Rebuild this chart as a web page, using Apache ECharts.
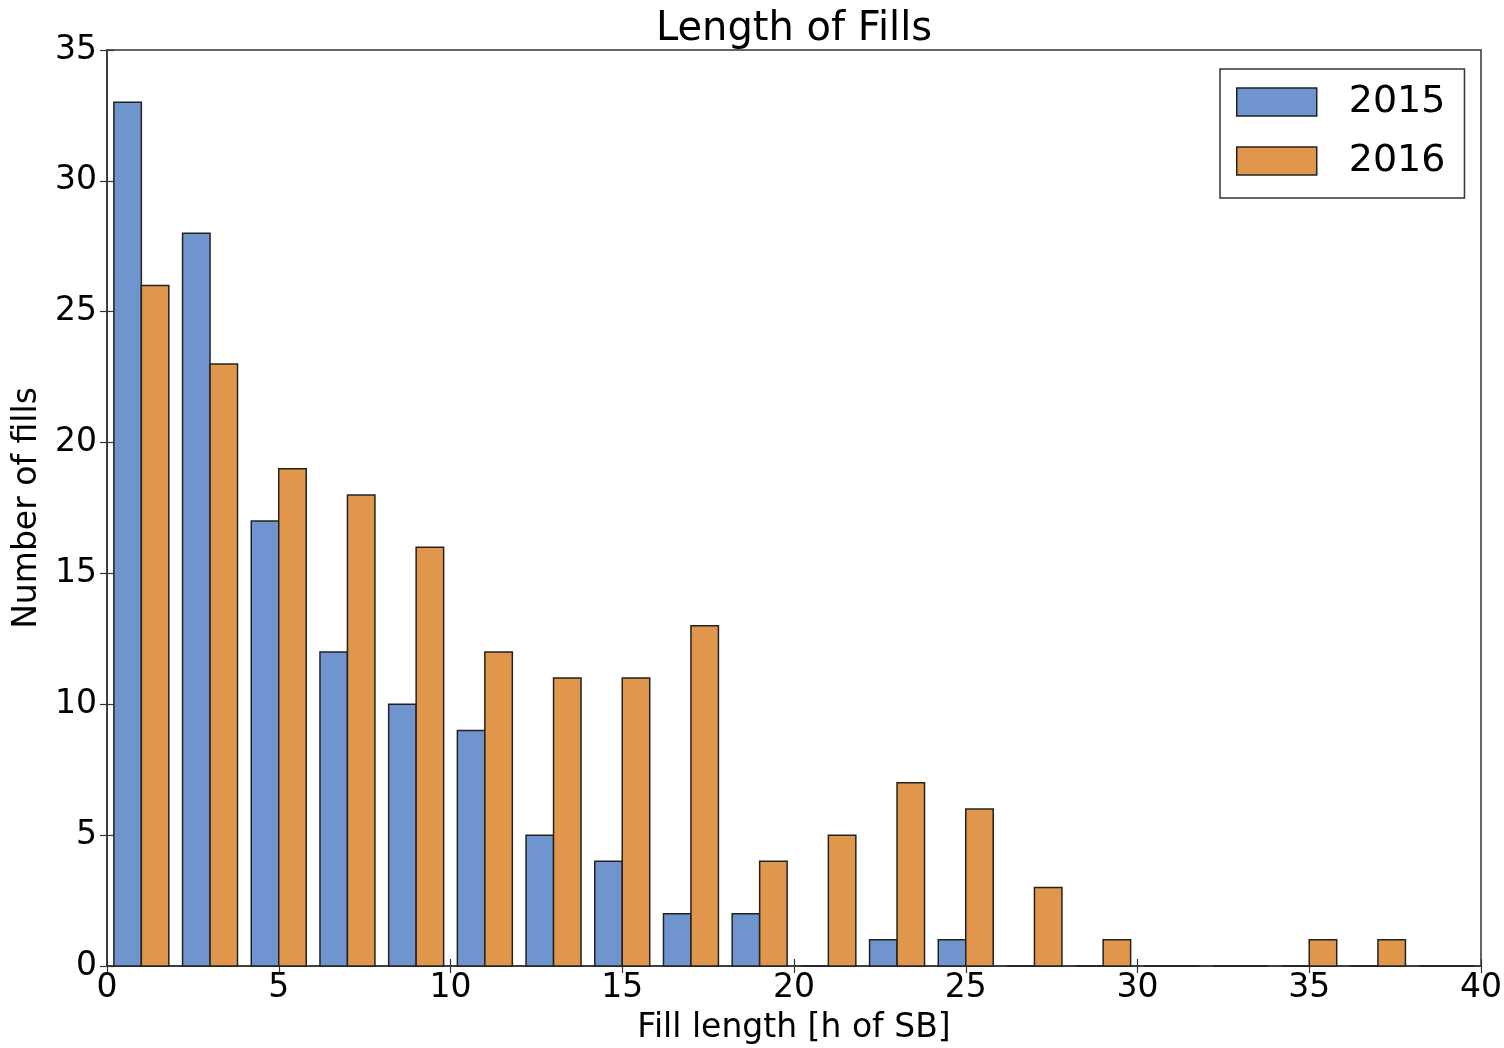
<!DOCTYPE html>
<html>
<head>
<meta charset="utf-8">
<title>Length of Fills</title>
<script src="https://cdn.jsdelivr.net/npm/echarts@6/dist/echarts.min.js"></script>
<style>
  html, body { margin: 0; padding: 0; background: #fff; }
  #chart { width: 1504px; height: 1048px; }
</style>
</head>
<body>
<div id="chart"></div>
<script>
  // histogram bins, width 2h
  var binStarts = [0, 2, 4, 6, 8, 10, 12, 14, 16, 18, 20, 22, 24, 26, 28, 30, 32, 34, 36, 38];
  var fills2015 = [33, 28, 17, 12, 10, 9, 5, 4, 2, 2, 0, 1, 1, 0, 0, 0, 0, 0, 0, 0];
  var fills2016 = [26, 23, 19, 18, 16, 12, 11, 11, 13, 4, 5, 7, 6, 3, 1, 0, 0, 1, 1, 0];
  var xTicks = [0, 5, 10, 15, 20, 25, 30, 35, 40];
  var yTicks = [0, 5, 10, 15, 20, 25, 30, 35];

  var FONT = 'DejaVu Sans';
  var colors = ['#7094cd', '#e0974c'];
  var edge = '#222';

  // bar i of a bin sits at [start + 0.2 + 0.8*i, start + 1.0 + 0.8*i]
  function makeRender(idx) {
    return function (params, api) {
      var x0 = api.value(0) + 0.2 + 0.8 * idx;
      var p1 = api.coord([x0, api.value(1)]);
      var p2 = api.coord([x0 + 0.8, 0]);
      return {
        type: 'rect',
        shape: { x: p1[0], y: p1[1], width: p2[0] - p1[0], height: p2[1] - p1[1] },
        style: { fill: colors[idx], stroke: edge, lineWidth: 1.5 }
      };
    };
  }

  function pairs(vals) {
    return binStarts.map(function (s, i) { return [s, vals[i]]; });
  }

  var chart = echarts.init(document.getElementById('chart'));

  var tickStyle = { show: true, inside: true, length: 7, lineStyle: { color: '#333', width: 1.2 } };

  chart.setOption({
    animation: false,
    textStyle: { fontFamily: FONT },
    title: {
      text: 'Length of Fills',
      left: 794,
      top: 10,
      textAlign: 'center',
      padding: 0,
      textStyle: { fontFamily: FONT, fontSize: 40, fontWeight: 'normal', color: '#000' }
    },
    legend: {
      data: ['2015', '2016'],
      orient: 'vertical',
      left: 1220,
      top: 69,
      padding: [14, 19, 18, 16],
      itemWidth: 80,
      itemHeight: 28,
      itemGap: 21,
      icon: 'rect',
      borderColor: '#333',
      borderWidth: 1.5,
      borderRadius: 0,
      itemStyle: { borderColor: edge, borderWidth: 1.5 },
      textStyle: { fontFamily: FONT, fontSize: 38, color: '#000', padding: [0, 0, 0, 27] }
    },
    grid: {
      left: 107,
      right: 23,
      top: 50,
      bottom: 82,
      containLabel: false,
      outerBoundsMode: 'none',
      show: true,
      borderColor: '#333',
      borderWidth: 1.5,
      backgroundColor: 'transparent'
    },
    xAxis: [
      {
        type: 'value',
        min: 0,
        max: 40,
        interval: 5,
        name: 'Fill length [h of SB]',
        nameLocation: 'middle',
        nameGap: 46,
        nameTextStyle: { fontFamily: FONT, fontSize: 33, color: '#000' },
        axisLine: { show: true, onZero: false, lineStyle: { color: '#333', width: 1.5 } },
        axisTick: tickStyle,
        axisLabel: { fontFamily: FONT, fontSize: 33, color: '#000', margin: 6 },
        splitLine: { show: false }
      },
      {
        type: 'value',
        position: 'top',
        min: 0,
        max: 40,
        interval: 5,
        axisLine: { show: false },
        axisTick: tickStyle,
        axisLabel: { show: false },
        splitLine: { show: false }
      }
    ],
    yAxis: [
      {
        type: 'value',
        min: 0,
        max: 35,
        interval: 5,
        name: 'Number of fills',
        nameLocation: 'middle',
        nameGap: 58,
        nameTextStyle: { fontFamily: FONT, fontSize: 33, color: '#000' },
        axisLine: { show: true, onZero: false, lineStyle: { color: '#333', width: 1.5 } },
        axisTick: tickStyle,
        axisLabel: { fontFamily: FONT, fontSize: 33, color: '#000', margin: 10 },
        splitLine: { show: false }
      },
      {
        type: 'value',
        position: 'right',
        min: 0,
        max: 35,
        interval: 5,
        axisLine: { show: false },
        axisTick: tickStyle,
        axisLabel: { show: false },
        splitLine: { show: false }
      }
    ],
    series: [
      {
        name: '2015',
        type: 'custom',
        renderItem: makeRender(0),
        itemStyle: { color: colors[0] },
        encode: { x: 0, y: 1 },
        data: pairs(fills2015)
      },
      {
        name: '2016',
        type: 'custom',
        renderItem: makeRender(1),
        itemStyle: { color: colors[1] },
        encode: { x: 0, y: 1 },
        data: pairs(fills2016)
      }
    ]
  });
</script>
</body>
</html>
